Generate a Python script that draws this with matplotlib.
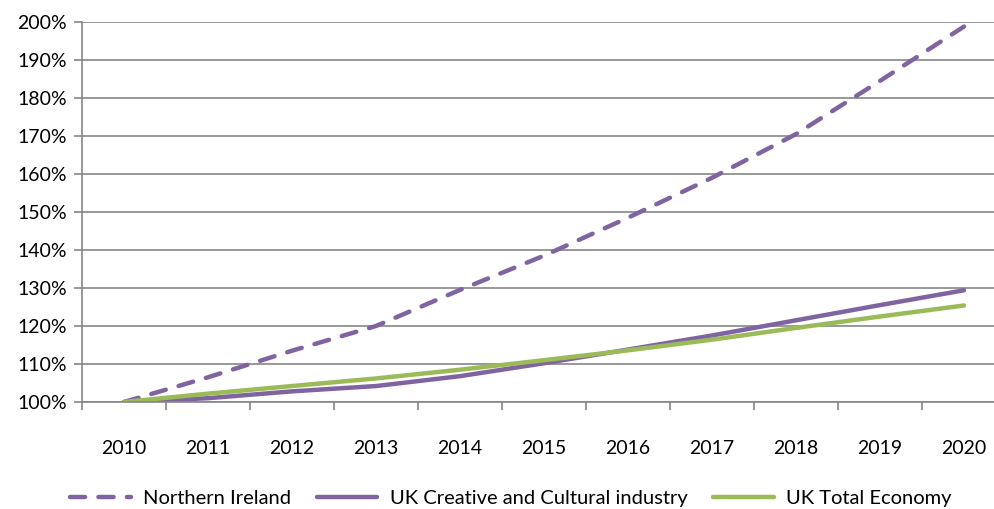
"""Index of growth since 2010: Northern Ireland vs UK."""
import numpy as np
from matplotlib import pyplot as plt
from matplotlib.ticker import FuncFormatter, MultipleLocator

plt.rcParams["font.family"] = ["Lato", "DejaVu Sans"]

years = ["2010", "2011", "2012", "2013", "2014", "2015", "2016", "2017", "2018", "2019", "2020"]
northern_ireland = [100, 106.5, 113.5, 120, 129.5, 138.5, 148.5, 159, 170.5, 184.5, 198.8]
uk_creative = [100, 101, 102.8, 104.2, 106.8, 110.2, 113.8, 117.5, 121.5, 125.5, 129.4]
uk_total = [100, 102.2, 104.2, 106.2, 108.5, 111, 113.6, 116.4, 119.5, 122.5, 125.4]

purple = "#8064A2"
green = "#9BBB59"
grid_col = "#868686"

W, H = 994, 509
fig = plt.figure(figsize=(W / 100, H / 100), dpi=100)
ax = fig.add_axes([82 / W, (H - 402) / H, 924 / W, 380 / H])

x = np.arange(len(years))
ax.plot(x, northern_ireland, color=purple, lw=3.2, dashes=(3.4, 3.0),
        dash_capstyle="round", solid_capstyle="round", label="Northern Ireland")
ax.plot(x, uk_creative, color=purple, lw=3.2, solid_capstyle="round",
        label="UK Creative and Cultural industry")
ax.plot(x, uk_total, color=green, lw=3.2, solid_capstyle="round",
        label="UK Total Economy")

ax.set_xlim(-0.5, len(years) - 0.5)
ax.set_ylim(100, 200)
ax.yaxis.set_major_locator(MultipleLocator(10))
ax.yaxis.set_major_formatter(FuncFormatter(lambda v, _: f"{v:.0f}%"))
ax.grid(axis="y", color=grid_col, lw=1.2)
ax.set_axisbelow(True)

# category labels centred, ticks on the boundaries
ax.set_xticks(x)
ax.set_xticklabels(years)
ax.set_xticks(np.arange(-0.5, len(years)), minor=True)
ax.tick_params(axis="x", which="major", length=0, pad=27, labelsize=14)
ax.tick_params(axis="x", which="minor", length=6, width=1.2, color=grid_col)
ax.tick_params(axis="y", length=6, width=1.2, color=grid_col, pad=5, labelsize=14)

for side in ("top", "right"):
    ax.spines[side].set_visible(False)
for side in ("left", "bottom"):
    ax.spines[side].set_color(grid_col)
    ax.spines[side].set_linewidth(1.2)

fig.legend(loc="center", bbox_to_anchor=(0.514, 1 - 498 / H), ncol=3, frameon=False,
           fontsize=14.5, handlelength=3.0, handletextpad=0.6, columnspacing=1.3)

fig.savefig("out.png", dpi=100)
plt.close(fig)
